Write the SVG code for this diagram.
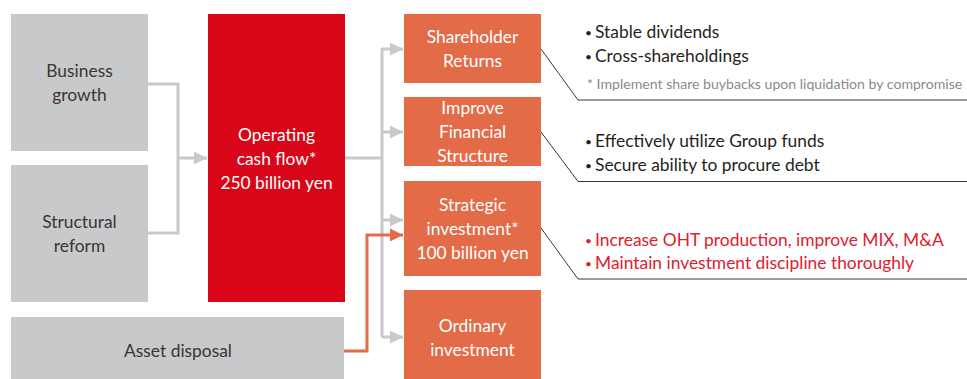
<svg xmlns="http://www.w3.org/2000/svg" width="967" height="379" viewBox="0 0 967 379">
<defs>
<style>
.gray{fill:#c8c9cb}
.red{fill:#d9061a}
.org{fill:#e36b47}
text{font-family:Lato,"Liberation Sans",sans-serif;font-size:17.4px}
.dk{fill:#3b3533;text-anchor:middle}
.wt{fill:#ffffff;text-anchor:middle}
.note{fill:#231f20}
.rnote{fill:#e0202e}
.bul{font-size:12px}
.small{fill:#8a8a8a;font-size:14.1px}
.gl{fill:none;stroke:#c8c9cb;stroke-width:3}
.ol{fill:none;stroke:#e36b47;stroke-width:3}
.cl{fill:none;stroke:#3b3533;stroke-width:1}
</style>
<marker id="ag" viewBox="0 0 10 10" refX="10" refY="5" markerWidth="4.5" markerHeight="4.5" markerUnits="strokeWidth" orient="auto"><path d="M0,0 L10,5 L0,10 z" fill="#c8c9cb"/></marker>
<marker id="ao" viewBox="0 0 10 10" refX="10" refY="5" markerWidth="4.5" markerHeight="4.5" markerUnits="strokeWidth" orient="auto"><path d="M0,0 L10,5 L0,10 z" fill="#e36b47"/></marker>
</defs>
<rect width="967" height="379" fill="#ffffff"/>

<g id="connectors">
<path class="gl" d="M148,84 H178 V233 H148"/>
<path class="gl" d="M178,158 H207" marker-end="url(#ag)"/>
<path class="gl" d="M345,158 H382"/>
<path class="gl" d="M382,48 V337"/>
<path class="gl" d="M382,49 H403" marker-end="url(#ag)"/>
<path class="gl" d="M382,132 H403" marker-end="url(#ag)"/>
<path class="gl" d="M382,220 H403" marker-end="url(#ag)"/>
<path class="gl" d="M382,337 H403" marker-end="url(#ag)"/>
<path class="ol" d="M344,351 H367 V235 H403" marker-end="url(#ao)"/>
<path class="cl" d="M541,49 L578,100 H967"/>
<path class="cl" d="M541,132 L578,181.5 H967"/>
<path class="cl" d="M541,228 L578,279 H967"/>
</g>

<g id="business-growth">
<rect class="gray" x="11" y="14" width="137" height="137"/>
<text class="dk" x="79.5" y="77">Business</text>
<text class="dk" x="79.5" y="101">growth</text>
</g>
<g id="structural-reform">
<rect class="gray" x="11" y="165" width="137" height="137"/>
<text class="dk" x="79.5" y="228">Structural</text>
<text class="dk" x="79.5" y="252">reform</text>
</g>
<g id="operating-cash-flow">
<rect class="red" x="208" y="14" width="137" height="288"/>
<text class="wt" x="276.5" y="141">Operating</text>
<text class="wt" x="276.5" y="165">cash flow*</text>
<text class="wt" x="276.5" y="189">250 billion yen</text>
</g>
<g id="asset-disposal">
<rect class="gray" x="11" y="317" width="333" height="62"/>
<text class="dk" x="178" y="357">Asset disposal</text>
</g>
<g id="shareholder-returns">
<rect class="org" x="404" y="14" width="137" height="69"/>
<text class="wt" x="472.5" y="43">Shareholder</text>
<text class="wt" x="472.5" y="67">Returns</text>
</g>
<g id="improve-financial-structure">
<rect class="org" x="404" y="97" width="137" height="69"/>
<text class="wt" x="472.5" y="114">Improve</text>
<text class="wt" x="472.5" y="138">Financial</text>
<text class="wt" x="472.5" y="162">Structure</text>
</g>
<g id="strategic-investment">
<rect class="org" x="404" y="181" width="137" height="95"/>
<text class="wt" x="472.5" y="211">Strategic</text>
<text class="wt" x="472.5" y="235">investment*</text>
<text class="wt" x="472.5" y="259">100 billion yen</text>
</g>
<g id="ordinary-investment">
<rect class="org" x="404" y="290" width="137" height="89"/>
<text class="wt" x="472.5" y="332">Ordinary</text>
<text class="wt" x="472.5" y="356">investment</text>
</g>

<g id="notes-returns">
<text class="note" x="585" y="38"><tspan class="bul" y="37">•</tspan><tspan x="595" y="38">Stable dividends</tspan></text>
<text class="note" x="585" y="62"><tspan class="bul" y="61">•</tspan><tspan x="595" y="62">Cross-shareholdings</tspan></text>
<text class="small" x="587" y="89">* Implement share buybacks upon liquidation by compromise</text>
</g>
<g id="notes-financial">
<text class="note" x="585" y="147"><tspan class="bul" y="146">•</tspan><tspan x="595" y="147">Effectively utilize Group funds</tspan></text>
<text class="note" x="585" y="171"><tspan class="bul" y="170">•</tspan><tspan x="595" y="171">Secure ability to procure debt</tspan></text>
</g>
<g id="notes-strategic">
<text class="rnote" x="585" y="246"><tspan class="bul" y="245">•</tspan><tspan x="595" y="246">Increase OHT production, improve MIX, M&amp;A</tspan></text>
<text class="rnote" x="585" y="269"><tspan class="bul" y="268">•</tspan><tspan x="595" y="269">Maintain investment discipline thoroughly</tspan></text>
</g>
</svg>
